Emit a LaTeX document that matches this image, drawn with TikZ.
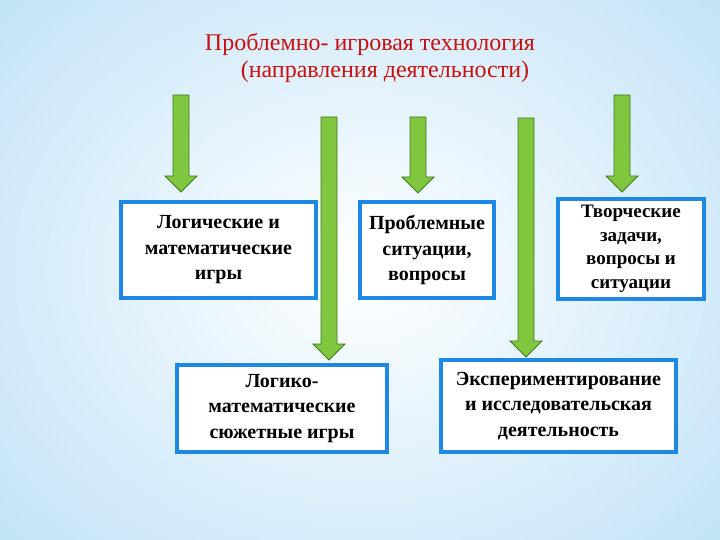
\documentclass[tikz,border=0pt]{standalone}
\usepackage{fontspec}
\setmainfont{Liberation Serif}
\definecolor{bluebox}{HTML}{1E88E5}
\definecolor{garrowfill}{HTML}{80C63E}
\definecolor{garrowline}{HTML}{3F7A1E}
\definecolor{bgblue}{HTML}{C4E4F8}
\definecolor{titlered}{HTML}{C81010}
\newcommand\garrow[3]{%
  \filldraw[fill=garrowfill,draw=garrowline,line width=0.8pt]
   (#1-8,#2) -- (#1+8,#2) -- (#1+8,#3-16) -- (#1+16,#3-16) -- (#1,#3) -- (#1-16,#3-16) -- (#1-8,#3-16) -- cycle;}
\tikzset{
  bx/.style={draw=bluebox,line width=4.5pt,fill=white,align=center,inner sep=0pt,
    font=\fontsize{20}{25.5}\selectfont\bfseries},
}
\begin{document}
\begin{tikzpicture}[x=1pt,y=-1pt]
\useasboundingbox (0,0) rectangle (720,540);
\shade[inner color=white,outer color=bgblue] (-120,-120) rectangle (840,660);
\node[text=titlered,align=center,font=\fontsize{24}{27}\selectfont] (title) at (370,58)
  {Проблемно- игровая технология\\\hspace*{30pt}(направления деятельности)};
\node[bx,minimum width=195pt,minimum height=96pt] (b1) at (218.5,250) {Логические и\\математические\\игры};
\node[bx,minimum width=134pt,minimum height=96pt] (b2) at (427,250) {Проблемные\\ситуации,\\вопросы};
\node[bx,minimum width=146pt,minimum height=100pt,font=\fontsize{19}{23.5}\selectfont\bfseries] (b3) at (631,249) {Творческие\\задачи,\\вопросы и\\ситуации};
\node[bx,minimum width=210pt,minimum height=87pt] (b4) at (282,408.5) {Логико-\\математические\\сюжетные игры};
\node[bx,minimum width=235pt,minimum height=92pt] (b5) at (558.5,406) {Экспериментирование\\и исследовательская\\деятельность};
\garrow{181}{95}{192}
\garrow{329}{117}{360}
\garrow{418}{117}{193}
\garrow{526}{118}{357}
\garrow{622}{95}{192}
\end{tikzpicture}
\end{document}
